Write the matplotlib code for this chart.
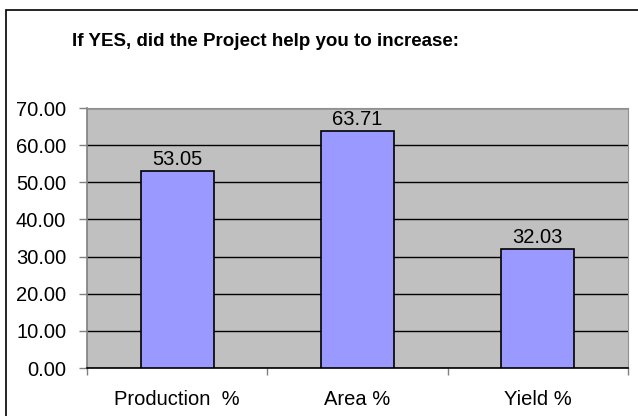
import matplotlib.pyplot as plt
from matplotlib.patches import Rectangle

plt.rcParams['font.family'] = ['Liberation Sans', 'DejaVu Sans']

categories = ["Production  %", "Area %", "Yield %"]
values = [53.05, 63.71, 32.03]
y_ticks = [0, 10, 20, 30, 40, 50, 60, 70]

fig = plt.figure(figsize=(6.38, 4.16), dpi=100)
W, H = 638, 416

# outer chart frame
fig.patches.append(Rectangle((6 / W, -0.1), 2, 1.1 - 10 / H, transform=fig.transFigure,
                             fill=False, edgecolor='black', linewidth=1.2))

ax = fig.add_axes([87 / W, (H - 368) / H, (628 - 87) / W, (368 - 108) / H])
ax.set_facecolor('#c0c0c0')

x = range(len(categories))
ax.bar(x, values, width=0.405, color='#9999ff', edgecolor='black', linewidth=1.2, zorder=3)
for xi, v in zip(x, values):
    ax.text(xi, v + 0.6, f"{v:.2f}", ha='center', va='bottom', fontsize=14.5, zorder=4)

ax.set_xlim(-0.5, len(categories) - 0.5)
ax.set_ylim(0, 70)
ax.set_yticks(y_ticks)
ax.set_yticklabels([f"{t:.2f}" for t in y_ticks], fontsize=14.5)
ax.yaxis.grid(True, color='black', linewidth=1.0, zorder=1)
ax.set_axisbelow(True)

# category labels centred, ticks on category boundaries
ax.set_xticks(list(x))
ax.set_xticklabels(categories, fontsize=14.5)
ax.tick_params(axis='x', length=0, pad=16)
ax.set_xticks([-0.5, 0.5, 1.5, 2.5], minor=True)
ax.tick_params(axis='x', which='minor', length=5, color='#808080', width=1)
ax.tick_params(axis='y', length=6, color='#808080', width=1, pad=9)

for side in ['top', 'right']:
    ax.spines[side].set_color('#909090')
ax.spines['left'].set_color('#808080')
ax.spines['bottom'].set_color('black')
ax.spines['left'].set_linewidth(1.2)
ax.spines['bottom'].set_linewidth(1.2)

fig.text(265 / W, (H - 42) / H, "If YES, did the Project help you to increase:",
         ha='center', va='center', fontsize=13.5, fontweight='bold')

fig.savefig('out.png', dpi=100)
